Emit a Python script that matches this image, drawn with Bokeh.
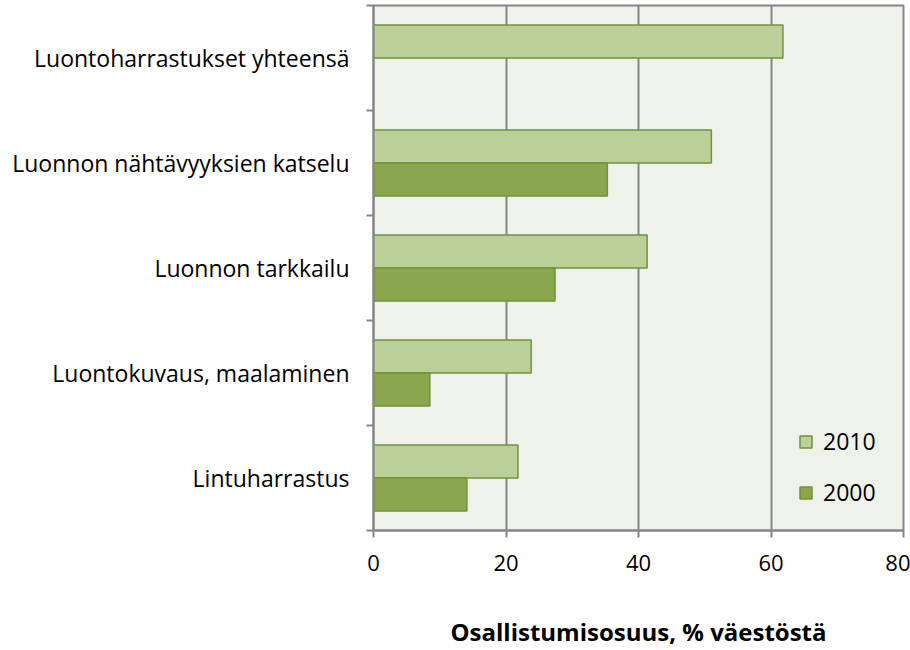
from bokeh.plotting import figure
from bokeh.models import Range1d, FixedTicker, Legend, LegendItem
from bokeh.embed import file_html
from bokeh.resources import INLINE

categories = ["Luontoharrastukset yhteensä", "Luonnon nähtävyyksien katselu",
              "Luonnon tarkkailu", "Luontokuvaus, maalaminen", "Lintuharrastus"]
years = ["2010", "2000"]
values_2010 = [61.8, 51.0, 41.3, 23.8, 21.8]
values_2000 = [None, 35.3, 27.4, 8.5, 14.1]
x_ticks = [0, 20, 40, 60, 80]

n = len(categories)
centers = [n - 0.5 - i for i in range(n)]
bar_h = 0.314

FONT = "Open Sans"
GRID = "#868686"
LIGHT = "#BBCF99"
DARK = "#8AA64F"
EDGE = "#71933B"

p = figure(width=910, height=650, output_backend="svg", toolbar_location=None,
           x_range=Range1d(0, 80), y_range=Range1d(0, n),
           min_border_left=373, min_border_right=7, min_border_top=5, min_border_bottom=120)
p.background_fill_color = "#EFF2EA"
p.border_fill_color = "white"
p.outline_line_color = GRID
p.outline_line_width = 2

y10 = [c + bar_h / 2 for c in centers]
y00 = [c - bar_h / 2 for c in centers]
r10 = p.hbar(y=y10, right=values_2010, left=0, height=bar_h,
             fill_color=LIGHT, line_color=EDGE, line_width=1.5)
d00_y = [y for y, v in zip(y00, values_2000) if v is not None]
d00_v = [v for v in values_2000 if v is not None]
r00 = p.hbar(y=d00_y, right=d00_v, left=0, height=bar_h,
             fill_color=DARK, line_color=EDGE, line_width=1.5)

# x axis
p.xaxis.ticker = FixedTicker(ticks=x_ticks)
p.xaxis.axis_line_color = GRID
p.xaxis.axis_line_width = 2
p.xaxis.major_tick_line_color = GRID
p.xaxis.major_tick_line_width = 2
p.xaxis.major_tick_out = 7
p.xaxis.major_tick_in = 0
p.xaxis.minor_tick_line_color = None
p.xaxis.major_label_text_font = FONT
p.xaxis.major_label_text_font_size = "22px"
p.xaxis.major_label_text_color = "black"
p.xaxis.major_label_standoff = 17
p.xaxis.axis_label = "Osallistumisosuus, % väestöstä"
p.xaxis.axis_label_text_font = FONT
p.xaxis.axis_label_text_font_size = "24px"
p.xaxis.axis_label_text_font_style = "bold"
p.xaxis.axis_label_text_color = "black"
p.xaxis.axis_label_standoff = 41

# y axis
p.yaxis.ticker = FixedTicker(ticks=centers, minor_ticks=list(range(n + 1)))
p.yaxis.major_label_overrides = {c: lab for c, lab in zip(centers, categories)}
p.yaxis.axis_line_color = GRID
p.yaxis.axis_line_width = 2
p.yaxis.major_tick_out = 0
p.yaxis.major_tick_in = 0
p.yaxis.minor_tick_out = 7
p.yaxis.minor_tick_in = 0
p.yaxis.minor_tick_line_color = GRID
p.yaxis.minor_tick_line_width = 2
p.yaxis.major_label_text_font = FONT
p.yaxis.major_label_text_font_size = "23px"
p.yaxis.major_label_text_color = "black"
p.yaxis.major_label_standoff = 17

p.xgrid.ticker = FixedTicker(ticks=x_ticks)
p.xgrid.grid_line_color = GRID
p.xgrid.grid_line_width = 2
p.ygrid.grid_line_color = None

legend = Legend(items=[LegendItem(label=years[0], renderers=[r10]),
                       LegendItem(label=years[1], renderers=[r00])],
                location=(425, 22), orientation="vertical")
legend.background_fill_alpha = 0
legend.border_line_color = None
legend.glyph_width = 15
legend.glyph_height = 15
legend.label_standoff = 10
legend.spacing = 19
legend.padding = 0
legend.margin = 0
legend.label_text_font = FONT
legend.label_text_font_size = "23px"
legend.label_text_color = "black"
p.add_layout(legend)

open("out.html", "w").write(file_html(p, INLINE))
